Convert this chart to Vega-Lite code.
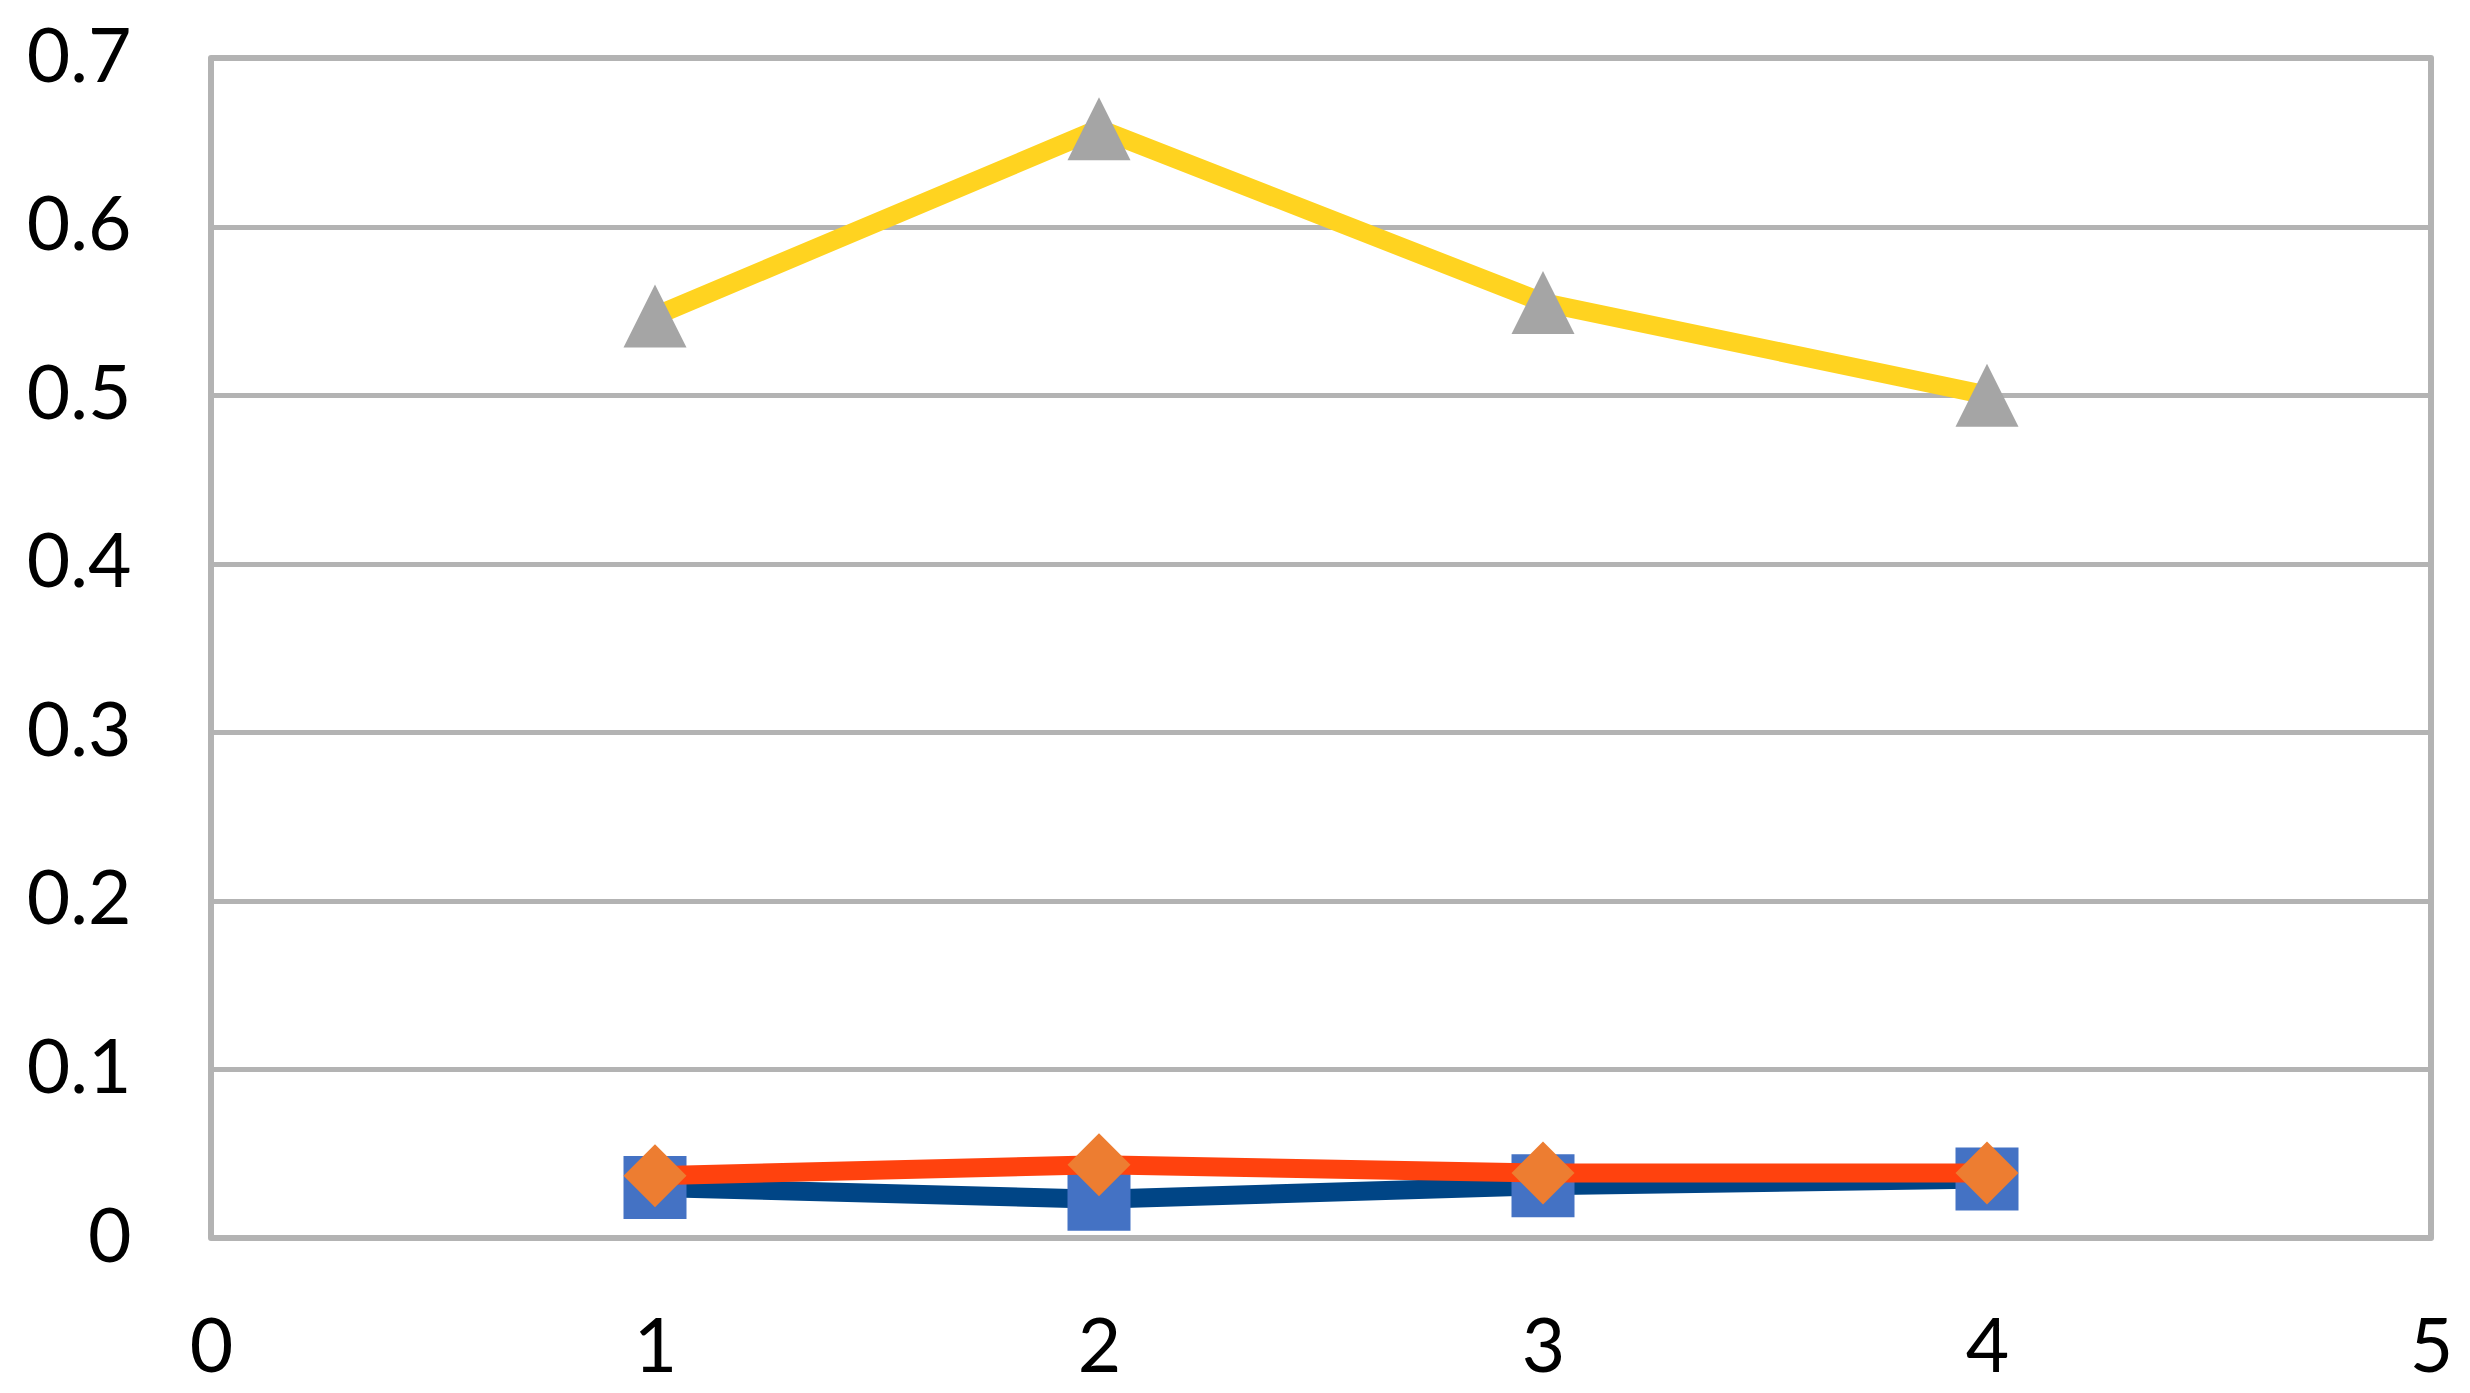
{
  "$schema": "https://vega.github.io/schema/vega-lite/v6.json",
  "width": 2220,
  "height": 1180,
  "autosize": {"type": "none"},
  "padding": {"left": 211, "top": 58, "right": 39, "bottom": 155},
  "background": "white",
  "config": {
    "view": {"stroke": "#B3B3B3", "strokeWidth": 6, "strokeJoin": "round"},
    "axis": {"labelFont": "Lato", "labelFontSize": 75, "labelColor": "#000000", "ticks": false, "tickSize": 0, "domain": false, "title": null}
  },
  "data": {
    "values": [
      {"x": 1, "value": 0.030, "series": "S1"},
      {"x": 2, "value": 0.023, "series": "S1"},
      {"x": 3, "value": 0.031, "series": "S1"},
      {"x": 4, "value": 0.035, "series": "S1"},
      {"x": 1, "value": 0.037, "series": "S2"},
      {"x": 2, "value": 0.0435, "series": "S2"},
      {"x": 3, "value": 0.0385, "series": "S2"},
      {"x": 4, "value": 0.0385, "series": "S2"},
      {"x": 1, "value": 0.547, "series": "S3"},
      {"x": 2, "value": 0.658, "series": "S3"},
      {"x": 3, "value": 0.555, "series": "S3"},
      {"x": 4, "value": 0.500, "series": "S3"}
    ]
  },
  "encoding": {
    "x": {
      "field": "x", "type": "quantitative",
      "scale": {"domain": [0, 5], "nice": false, "zero": false},
      "axis": {"values": [0, 1, 2, 3, 4, 5], "grid": false, "labelPadding": 110, "labelBaseline": "middle", "labelFlush": false, "labelOverlap": false, "format": "~g"}
    },
    "y": {
      "field": "value", "type": "quantitative",
      "scale": {"domain": [0, 0.7], "nice": false},
      "axis": {"values": [0, 0.1, 0.2, 0.3, 0.4, 0.5, 0.6, 0.7], "grid": true, "gridColor": "#B3B3B3", "gridWidth": 5, "labelPadding": 80, "labelAlign": "right", "labelBaseline": "middle", "labelFlush": false, "labelOverlap": false, "format": "~g"}
    }
  },
  "layer": [
    {
      "transform": [{"filter": "datum.series === 'S1'"}],
      "mark": {"type": "line", "color": "#004586", "strokeWidth": 19, "strokeJoin": "round",
        "point": {"filled": true, "color": "#4472C4", "shape": "square", "size": 3969, "opacity": 1}}
    },
    {
      "transform": [{"filter": "datum.series === 'S2'"}],
      "mark": {"type": "line", "color": "#FF420E", "strokeWidth": 19, "strokeJoin": "round",
        "point": {"filled": true, "color": "#ED7D31", "shape": "M-1,0L0,-1L1,0L0,1Z", "size": 3969, "opacity": 1}}
    },
    {
      "transform": [{"filter": "datum.series === 'S3'"}],
      "mark": {"type": "line", "color": "#FFD320", "strokeWidth": 19, "strokeJoin": "round",
        "point": {"filled": true, "color": "#A5A5A5", "shape": "M0,-1L1,1L-1,1Z", "size": 3969, "opacity": 1}}
    }
  ]
}
